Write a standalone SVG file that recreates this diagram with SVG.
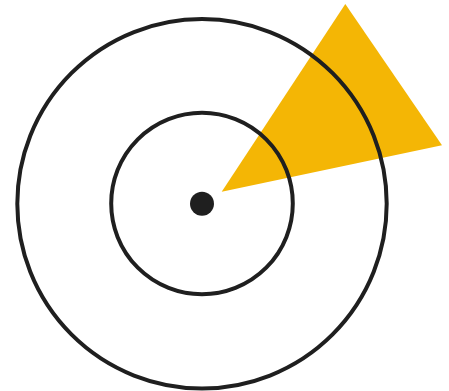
<svg xmlns="http://www.w3.org/2000/svg" width="449" height="391" viewBox="0 0 449 391">
<style>
.ring{fill:none;stroke:#1f1f1f;stroke-width:4}
</style>
<rect width="449" height="391" fill="#ffffff"/>
<polygon id="beam" points="221.7,191.7 345.3,4 442,145.3" fill="#F4B605"/>
<g id="outer-ring"><circle class="ring" cx="202" cy="203.8" r="184.7"/></g>
<g id="inner-ring"><circle class="ring" cx="202" cy="203.5" r="90.8"/></g>
<g id="center-dot"><circle cx="202" cy="203.8" r="12" fill="#1f1f1f"/></g>
</svg>
